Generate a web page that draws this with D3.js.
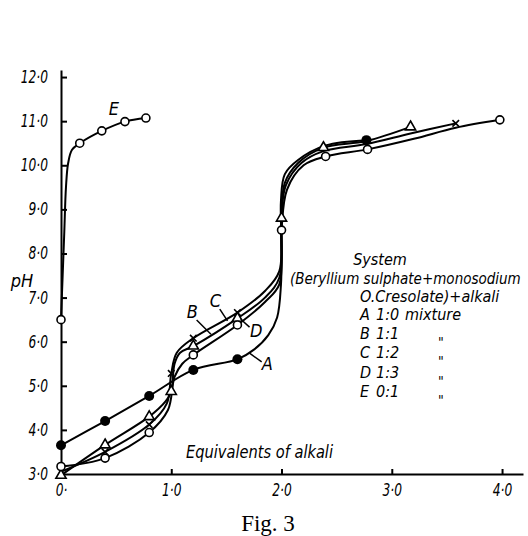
<!DOCTYPE html>
<html>
<head>
<meta charset="utf-8">
<title>Fig. 3</title>
<script src="https://cdn.jsdelivr.net/npm/d3@7"></script>
<style>
  body { margin: 0; background: #fff; }
  .lab { font-family: "DejaVu Sans Condensed", "Liberation Sans", sans-serif; font-style: italic; fill: #000; }
  .axis path, .axis line { stroke: #000; stroke-width: 2; }
  .axis text { font-family: "DejaVu Sans Condensed", "Liberation Sans", sans-serif; font-style: italic; font-size: 17px; fill: #000; }
  .curve { fill: none; stroke: #000; stroke-width: 2; }
</style>
</head>
<body>
<script>
// axis ticks
var xTicks = [0, 1, 2, 3, 4];
var xTickLabels = ["0·", "1·0", "2·0", "3·0", "4·0"];
var yTicks = [3, 4, 5, 6, 7, 8, 9, 10, 11, 12];
var yTickLabels = ["3·0", "4·0", "5·0", "6·0", "7·0", "8·0", "9·0", "10·0", "11·0", "12·0"];

// curve traces [equivalents, pH]
var curveA = [[0,3.65],[0.4,4.2],[0.8,4.77],[1.2,5.36],[1.6,5.6],[1.75,5.82],[1.88,6.15],[1.96,6.55],[1.995,7.3],[2.0,8.2],[1.995,9.2],[2.03,9.8],[2.15,10.12],[2.4,10.45],[2.77,10.57]];
var curveB = [[0,2.97],[0.4,3.66],[0.8,4.3],[0.95,4.65],[1.0,4.87],[1.03,5.5],[1.08,5.75],[1.2,5.9],[1.6,6.53],[1.85,7.0],[1.98,7.45],[2.0,8.8],[2.03,9.6],[2.15,10.05],[2.38,10.4],[2.77,10.55],[3.17,10.87]];
var curveC = [[0,3.05],[0.4,3.5],[0.8,4.12],[0.96,4.6],[1.0,5.28],[1.05,5.75],[1.2,6.08],[1.6,6.66],[1.85,7.15],[1.98,7.6],[2.0,8.9],[2.04,9.55],[2.18,10.05],[2.38,10.32],[2.77,10.48],[3.17,10.72],[3.58,10.95]];
var curveD = [[0,3.17],[0.4,3.36],[0.8,3.94],[0.97,4.45],[1.03,5.2],[1.1,5.5],[1.2,5.7],[1.6,6.38],[1.85,6.9],[1.98,7.3],[2.0,8.53],[2.05,9.45],[2.2,10.0],[2.4,10.2],[2.78,10.36],[3.2,10.6],[3.58,10.85],[3.98,11.03]];
var curveE = [[0,6.5],[0.015,7.5],[0.03,8.5],[0.045,9.5],[0.065,10.05],[0.1,10.35],[0.17,10.5],[0.37,10.78],[0.58,10.99],[0.77,11.07]];

// measured points (markers)
var pointsA = [[0,3.65],[0.4,4.2],[0.8,4.77],[1.2,5.36],[1.6,5.6],[2.77,10.57]];
var pointsB = [[0,2.97],[0.4,3.66],[0.8,4.3],[1.0,4.87],[1.2,5.9],[1.6,6.53],[2.0,8.8],[2.38,10.4],[3.17,10.87]];
var pointsC = [[0.4,3.5],[0.8,4.12],[1.0,5.28],[1.2,6.08],[1.6,6.66],[3.58,10.95]];
var pointsD = [[0,3.17],[0.4,3.36],[0.8,3.94],[1.2,5.7],[1.6,6.38],[2.0,8.53],[2.4,10.2],[2.78,10.36],[3.98,11.03]];
var pointsE = [[0,6.5],[0.17,10.5],[0.37,10.78],[0.58,10.99],[0.77,11.07]];

// curve labels: name, label position, leader line (data units)
var curveLabels = [
  {name: "A", at: [1.87, 5.36], leader: [[1.71, 5.74], [1.82, 5.54]]},
  {name: "B", at: [1.19, 6.54], leader: [[1.23, 6.49], [1.36, 6.17]]},
  {name: "C", at: [1.40, 6.79], leader: [[1.44, 6.74], [1.51, 6.47]]},
  {name: "D", at: [1.77, 6.11], leader: [[1.71, 6.33], [1.63, 6.51]]},
  {name: "E", at: [0.48, 11.14], leader: null}
];

var legendHead = ["System", "(Beryllium sulphate+monosodium", "O.Cresolate)+alkali"];
var legendKeys = ["A", "B", "C", "D", "E"];
var legendRatios = ["1:0", "1:1", "1:2", "1:3", "0:1"];
var legendNotes = ["mixture", "\"", "\"", "\"", "\""];

var width = 528, height = 536;
var svg = d3.select("body").append("svg")
    .attr("width", width)
    .attr("height", height);
svg.append("rect").attr("width", width).attr("height", height).attr("fill", "#fff");

var x = d3.scaleLinear().domain([0, 4.19]).range([61, 523]);
var y = d3.scaleLinear().domain([3, 12.16]).range([474, 70]);

var squeeze = 0.8;

// x axis
var xAxis = d3.axisBottom(x)
    .tickValues(xTicks)
    .tickFormat(function(d, i){ return xTickLabels[i]; })
    .tickSizeInner(-5)
    .tickSizeOuter(0)
    .tickPadding(10);
var gx = svg.append("g")
    .attr("class", "axis")
    .attr("transform", "translate(0," + y(3) + ")")
    .call(xAxis);
gx.selectAll(".tick").filter(function(d){ return d === 0; }).select("line").remove();
gx.selectAll(".tick text").attr("transform", "scale(" + squeeze + ",1)");

// y axis
var yAxis = d3.axisLeft(y)
    .tickValues(yTicks)
    .tickFormat(function(d, i){ return yTickLabels[i]; })
    .tickSizeInner(-6)
    .tickSizeOuter(0)
    .tickPadding(13);
var gy = svg.append("g")
    .attr("class", "axis")
    .attr("transform", "translate(" + x(0) + ",0)")
    .call(yAxis);
gy.selectAll(".tick").filter(function(d){ return d === 3; }).select("line").remove();
gy.selectAll(".tick text")
    .attr("x", -13 / squeeze)
    .attr("transform", "scale(" + squeeze + ",1)");

// curves
var line = d3.line()
    .x(function(d){ return x(d[0]); })
    .y(function(d){ return y(d[1]); })
    .curve(d3.curveCatmullRom.alpha(0.5));

[curveA, curveB, curveC, curveD, curveE].forEach(function(c){
  svg.append("path").attr("class", "curve").attr("d", line(c));
});

// markers
svg.append("g").selectAll("circle")
    .data(pointsA).enter().append("circle")
    .attr("cx", function(d){ return x(d[0]); })
    .attr("cy", function(d){ return y(d[1]); })
    .attr("r", 5)
    .attr("fill", "#000");

svg.append("g").selectAll("path")
    .data(pointsB).enter().append("path")
    .attr("transform", function(d){ return "translate(" + x(d[0]) + "," + y(d[1]) + ")"; })
    .attr("d", d3.symbol(d3.symbolTriangle, 45))
    .attr("fill", "#fff")
    .attr("stroke", "#000")
    .attr("stroke-width", 1.6);

svg.append("g").selectAll("path")
    .data(pointsC).enter().append("path")
    .attr("transform", function(d){ return "translate(" + x(d[0]) + "," + y(d[1]) + ")"; })
    .attr("d", d3.symbol(d3.symbolX, 30))
    .attr("fill", "none")
    .attr("stroke", "#000")
    .attr("stroke-width", 1.6);

svg.append("g").selectAll("circle")
    .data(pointsD.concat(pointsE)).enter().append("circle")
    .attr("cx", function(d){ return x(d[0]); })
    .attr("cy", function(d){ return y(d[1]); })
    .attr("r", 4)
    .attr("fill", "#fff")
    .attr("stroke", "#000")
    .attr("stroke-width", 1.6);

// curve labels
curveLabels.forEach(function(l){
  if (l.leader) {
    svg.append("line")
      .attr("x1", x(l.leader[0][0])).attr("y1", y(l.leader[0][1]))
      .attr("x2", x(l.leader[1][0])).attr("y2", y(l.leader[1][1]))
      .attr("stroke", "#000").attr("stroke-width", 1.5);
  }
  svg.append("text").attr("class", "lab")
    .attr("x", x(l.at[0])).attr("y", y(l.at[1]))
    .attr("text-anchor", "middle")
    .style("font-size", "18px")
    .text(l.name);
});

// axis titles
svg.append("text").attr("class", "lab")
    .attr("x", 22).attr("y", 287)
    .attr("text-anchor", "middle")
    .style("font-size", "18px")
    .text("pH");
svg.append("text").attr("class", "lab")
    .attr("x", 186).attr("y", 458)
    .style("font-size", "17px")
    .attr("textLength", 147)
    .attr("lengthAdjust", "spacingAndGlyphs")
    .text("Equivalents of alkali");
svg.append("text")
    .attr("x", 268).attr("y", 531)
    .attr("text-anchor", "middle")
    .style("font-family", "'Liberation Serif', 'DejaVu Serif', serif")
    .style("font-size", "23px")
    .text("Fig. 3");

// legend block
var head = svg.append("g").attr("class", "lab").style("font-size", "16px");
head.append("text").attr("x", 380).attr("y", 265)
    .attr("text-anchor", "middle").text(legendHead[0]);
head.append("text").attr("x", 290).attr("y", 284)
    .style("font-size", "15px").text(legendHead[1]);
head.append("text").attr("x", 360).attr("y", 302)
    .text(legendHead[2]);

var rows = svg.append("g").attr("class", "lab").style("font-size", "16px")
    .selectAll("g").data(legendKeys).enter().append("g")
    .attr("transform", function(d, i){ return "translate(0," + (320 + i * 19.2) + ")"; });
rows.append("text").attr("x", 360).text(function(d){ return d; });
rows.append("text").attr("x", 376)
    .text(function(d, i){ return legendRatios[i]; });
rows.append("text")
    .attr("x", function(d, i){ return i === 0 ? 405 : 438; })
    .attr("dy", function(d, i){ return i === 0 ? 0 : 8; })
    .style("font-size", function(d, i){ return i === 0 ? "16px" : "14px"; })
    .text(function(d, i){ return legendNotes[i]; });
</script>
</body>
</html>
